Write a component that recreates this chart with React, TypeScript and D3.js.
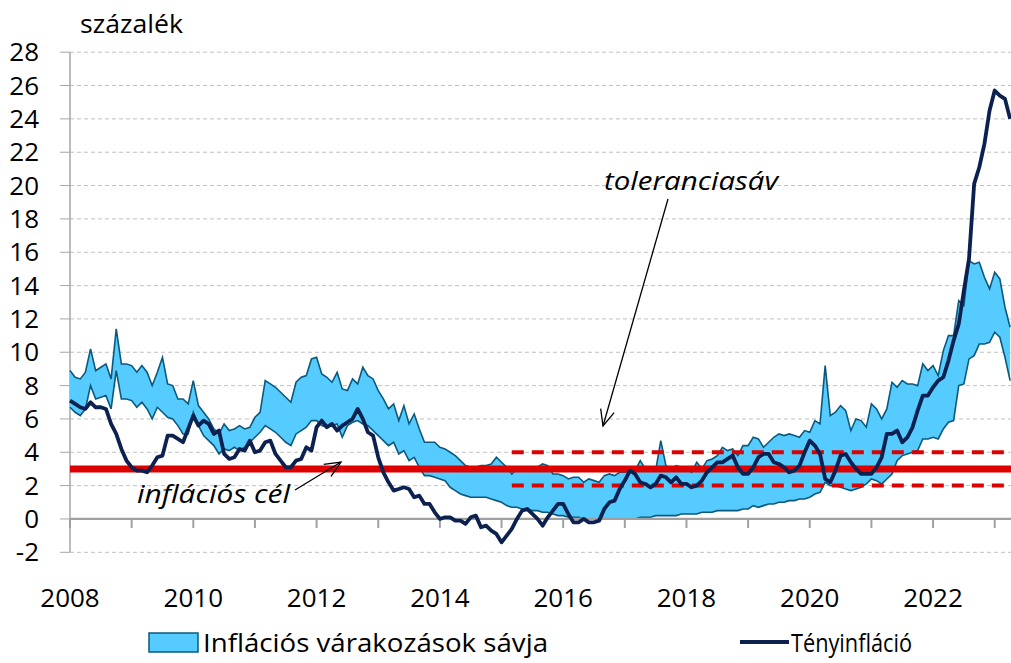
import React, { useEffect, useRef } from "react";
import * as d3 from "d3";

// monthly data, 2008 Jan - 2023 Apr
const startYear = 2008;
const yearTicks = [2008, 2010, 2012, 2014, 2016, 2018, 2020, 2022];
const yTicks = [-2, 0, 2, 4, 6, 8, 10, 12, 14, 16, 18, 20, 22, 24, 26, 28];

const bandUpper = [
  8.9, 8.5, 8.4, 8.8, 10.2, 8.9, 9.1, 9.3, 8.4, 11.4, 9.3, 9.3,
  9.2, 8.8, 9.2, 8.8, 8.0, 8.8, 9.7, 8.1, 8.0, 7.2, 7.2, 6.9,
  8.3, 6.8, 6.4, 6.0, 5.4, 5.1, 5.7, 5.3, 5.4, 5.6, 5.4, 5.5,
  6.1, 6.4, 8.3, 8.1, 7.9, 7.6, 7.3, 7.0, 8.2, 8.5, 8.6, 9.6,
  9.7, 8.7, 8.5, 8.2, 8.8, 7.8, 7.7, 8.4, 8.1, 9.1, 8.6, 8.4,
  7.7, 7.2, 6.6, 6.9, 5.9, 6.8, 5.7, 6.3, 5.4, 4.6, 4.6, 4.6,
  4.3, 4.2, 4.0, 3.8, 3.5, 3.2, 3.1, 3.1, 3.2, 3.2, 3.3, 3.7,
  3.4, 3.1, 2.7, 3.0, 3.0, 3.0, 3.0, 3.1, 3.3, 3.2, 2.7, 2.7,
  2.6, 2.4, 2.5, 2.5, 2.2, 2.4, 2.3, 2.2, 2.6, 2.7, 2.6, 2.8,
  2.8, 2.9, 2.9, 3.5, 3.0, 3.0, 2.9, 4.7, 3.2, 3.0, 3.2, 3.1,
  3.0, 2.8, 3.4, 3.0, 3.5, 3.6, 3.8, 4.3, 4.1, 4.2, 3.8, 4.4,
  4.4, 4.9, 4.8, 4.3, 4.6, 4.9, 5.1, 5.0, 5.1, 5.0, 4.9, 5.3,
  5.2, 5.9, 5.7, 9.2, 6.2, 6.4, 6.8, 6.5, 5.3, 6.0, 5.9, 5.5,
  6.9, 6.6, 6.0, 6.6, 8.2, 7.9, 8.3, 8.1, 8.1, 8.0, 9.3, 8.9,
  9.2, 8.6, 10.1, 11.0, 11.0, 13.1, 12.8, 15.5, 15.3, 15.4, 14.5, 13.8,
  14.8, 14.4, 12.7, 11.5,
];

const bandLower = [
  6.7, 6.4, 6.2, 6.6, 8.0, 7.2, 7.3, 7.4, 6.6, 8.9, 7.2, 7.2,
  7.1, 6.7, 7.0, 6.6, 6.0, 6.7, 6.4, 6.1, 6.0, 5.6, 5.1, 5.1,
  6.4, 5.6, 5.0, 4.7, 4.4, 3.9, 4.2, 4.1, 4.3, 4.1, 4.3, 4.6,
  4.9, 5.2, 5.6, 5.4, 5.2, 4.9, 4.6, 4.4, 5.1, 5.3, 5.5, 5.9,
  5.9, 5.6, 5.5, 5.6, 5.7, 4.9, 5.6, 5.8, 5.9, 5.7, 5.6, 5.3,
  5.0, 4.7, 4.4, 4.6, 3.9, 4.1, 3.5, 3.7, 3.1, 2.6, 2.6, 2.5,
  2.4, 2.3, 1.9, 1.7, 1.5, 1.4, 1.3, 1.3, 1.3, 1.3, 1.2, 1.1,
  1.0, 0.8, 0.7, 0.7, 0.6, 0.6, 0.5, 0.5, 0.4, 0.4, 0.3, 0.2,
  0.2, 0.1, 0.1, 0.1, 0.0, 0.0, 0.0, 0.0, 0.0, 0.0, 0.0, 0.0,
  0.0, 0.0, 0.0, 0.1, 0.1, 0.1, 0.2, 0.2, 0.2, 0.2, 0.2, 0.3,
  0.3, 0.3, 0.3, 0.4, 0.4, 0.4, 0.5, 0.5, 0.5, 0.5, 0.5, 0.6,
  0.6, 0.8, 0.7, 0.8, 0.9, 0.9, 1.0, 1.0, 1.1, 1.1, 1.2, 1.2,
  1.3, 1.5, 1.6, 2.2, 2.0, 2.0, 1.9, 1.8, 1.7, 1.8, 1.9, 2.1,
  2.4, 2.3, 2.1, 2.4, 2.7, 3.5, 3.8, 3.9, 4.0, 4.1, 4.8, 4.8,
  4.9, 4.8, 5.4, 5.8, 5.9, 8.0, 8.1, 9.6, 9.8, 10.5, 10.5, 10.6,
  11.2, 10.9, 9.7, 8.3,
];

const actual = [
  7.1, 6.9, 6.7, 6.6, 7.0, 6.7, 6.7, 6.6, 5.7, 5.1, 4.2, 3.5,
  3.1, 2.9, 2.9, 2.8, 3.2, 3.7, 3.8, 5.0, 5.0, 4.8, 4.6, 5.4,
  6.2, 5.6, 5.9, 5.7, 5.1, 5.3, 3.9, 3.6, 3.7, 4.2, 4.1, 4.7,
  4.0, 4.1, 4.6, 4.7, 3.9, 3.5, 3.1, 3.1, 3.5, 3.6, 4.3, 4.1,
  5.5, 5.9, 5.5, 5.7, 5.3, 5.6, 5.8, 6.0, 6.6, 6.0, 5.2, 5.0,
  3.7, 2.8, 2.2, 1.7, 1.8, 1.9, 1.8, 1.3, 1.4, 0.9, 0.9, 0.4,
  0.0, 0.1, 0.1, -0.1, -0.1, -0.3, 0.1, 0.2, -0.5, -0.4, -0.7, -0.9,
  -1.4, -1.0, -0.6, 0.0, 0.5, 0.6, 0.3, 0.0, -0.4, 0.1, 0.5, 0.9,
  0.9, 0.3, -0.2, -0.2, 0.0, -0.2, -0.2, -0.1, 0.6, 1.0, 1.1, 1.8,
  2.3, 2.9, 2.7, 2.2, 2.1, 1.9, 2.1, 2.6, 2.5, 2.2, 2.5, 2.1,
  2.1, 1.9, 2.0, 2.3, 2.8, 3.1, 3.4, 3.4, 3.6, 3.8, 3.1, 2.7,
  2.7, 3.1, 3.7, 3.9, 3.9, 3.4, 3.3, 3.1, 2.8, 2.9, 3.2, 4.0,
  4.7, 4.4, 3.9, 2.4, 2.2, 2.9, 3.8, 3.9, 3.4, 3.0, 2.7, 2.7,
  2.7, 3.1, 3.7, 5.1, 5.1, 5.3, 4.6, 4.9, 5.5, 6.5, 7.4, 7.4,
  7.9, 8.3, 8.5, 9.5, 10.7, 11.7, 13.7, 15.6, 20.1, 21.1, 22.5, 24.5,
  25.7, 25.4, 25.2, 24.0,
];

const target = 3;
const tolerance = [2, 4];
const toleranceStart = 2015 + 2 / 12;

const font = '"Open Sans", "Noto Sans", sans-serif';

export default function App() {
  const ref = useRef<SVGSVGElement>(null);

  useEffect(() => {
    const width = 1011, height = 663;
    const svg = d3.select(ref.current).attr("width", width).attr("height", height);
    svg.selectAll("*").remove();

    const x = d3.scaleLinear().domain([2008, 2023]).range([70, 994.7]);
    const y = d3.scaleLinear().domain([-2, 28]).range([552.3, 52.2]);
    const t = (i: number) => x(startYear + i / 12);

    // arrow marker
    svg.append("defs").append("marker")
      .attr("id", "arr")
      .attr("viewBox", "0 0 20 20")
      .attr("refX", 18).attr("refY", 10)
      .attr("markerWidth", 20).attr("markerHeight", 20)
      .attr("markerUnits", "userSpaceOnUse")
      .attr("orient", "auto")
      .append("path")
      .attr("d", "M2,3 L18,10 L2,17")
      .attr("fill", "none").attr("stroke", "#000").attr("stroke-width", 1.3);

    // gridlines
    svg.append("g").selectAll("line").data(yTicks).join("line")
      .attr("x1", 70).attr("x2", width)
      .attr("y1", d => y(d)).attr("y2", d => y(d))
      .attr("stroke", "#c0c0c0").attr("stroke-width", 1)
      .attr("stroke-dasharray", "4,3")
      .attr("display", d => (d === 0 ? "none" : null));

    // y ticks
    svg.append("g").selectAll("line").data(yTicks).join("line")
      .attr("x1", 60).attr("x2", 70)
      .attr("y1", d => y(d)).attr("y2", d => y(d))
      .attr("stroke", "#a6a6a6").attr("stroke-width", 1);

    svg.append("g").selectAll("text").data(yTicks).join("text")
      .attr("x", 39).attr("y", d => y(d) + 9)
      .attr("text-anchor", "end")
      .attr("font-family", font).attr("font-size", 26)
      .text(d => d);

    svg.append("line")
      .attr("x1", 70).attr("x2", 70).attr("y1", y(28)).attr("y2", y(-2))
      .attr("stroke", "#a6a6a6").attr("stroke-width", 1.5);

    // band
    const idx = d3.range(bandUpper.length);
    const area = d3.area<number>()
      .x(i => t(i)).y0(i => y(bandLower[i])).y1(i => y(bandUpper[i]));
    svg.append("path").datum(idx).attr("d", area).attr("fill", "#55CBFF");

    const edge = (arr: number[]) => d3.line<number>().x(i => t(i)).y(i => y(arr[i]));
    [bandUpper, bandLower].forEach(arr => {
      svg.append("path").datum(idx).attr("d", edge(arr))
        .attr("fill", "none").attr("stroke", "#0b5a7c").attr("stroke-width", 1.6);
    });

    // x axis at zero
    svg.append("line")
      .attr("x1", 70).attr("x2", width).attr("y1", y(0)).attr("y2", y(0))
      .attr("stroke", "#a0a0a0").attr("stroke-width", 2.2);
    svg.append("g").selectAll("line").data(d3.range(2008, 2024)).join("line")
      .attr("x1", d => x(d)).attr("x2", d => x(d))
      .attr("y1", y(0)).attr("y2", y(0) + 9)
      .attr("stroke", "#a0a0a0").attr("stroke-width", 2);

    svg.append("g").selectAll("text").data(yearTicks).join("text")
      .attr("x", d => x(d)).attr("y", 607)
      .attr("text-anchor", "middle")
      .attr("font-family", font).attr("font-size", 26)
      .text(d => d);

    // target and tolerance band
    svg.append("line")
      .attr("x1", 70).attr("x2", width).attr("y1", y(target)).attr("y2", y(target))
      .attr("stroke", "#dd0000").attr("stroke-width", 7);
    svg.append("g").selectAll("line").data(tolerance).join("line")
      .attr("x1", x(toleranceStart)).attr("x2", width)
      .attr("y1", d => y(d)).attr("y2", d => y(d))
      .attr("stroke", "#dd0000").attr("stroke-width", 4)
      .attr("stroke-dasharray", "12,8");

    // actual inflation
    svg.append("path").datum(actual)
      .attr("d", d3.line<number>().x((d, i) => t(i)).y(d => y(d)))
      .attr("fill", "none").attr("stroke", "#0d2150").attr("stroke-width", 3.8)
      .attr("stroke-linejoin", "round");

    // annotations
    svg.append("text").attr("x", 604).attr("y", 190)
      .attr("font-family", font).attr("font-size", 26).attr("font-style", "italic")
      .attr("textLength", 174).attr("lengthAdjust", "spacingAndGlyphs")
      .text("toleranciasáv");
    svg.append("line")
      .attr("x1", 668).attr("y1", 199).attr("x2", 603).attr("y2", 426)
      .attr("stroke", "#000").attr("stroke-width", 1.3).attr("marker-end", "url(#arr)");

    svg.append("text").attr("x", 137).attr("y", 503)
      .attr("font-family", font).attr("font-size", 26).attr("font-style", "italic")
      .attr("textLength", 153).attr("lengthAdjust", "spacingAndGlyphs")
      .text("inflációs cél");
    svg.append("line")
      .attr("x1", 295).attr("y1", 490).attr("x2", 341).attr("y2", 462)
      .attr("stroke", "#000").attr("stroke-width", 1.3).attr("marker-end", "url(#arr)");

    // axis title
    svg.append("text").attr("x", 80).attr("y", 33)
      .attr("font-family", font).attr("font-size", 26)
      .attr("textLength", 103).attr("lengthAdjust", "spacingAndGlyphs")
      .text("százalék");

    // legend
    svg.append("rect").attr("x", 149).attr("y", 633).attr("width", 49).attr("height", 19)
      .attr("fill", "#55CBFF").attr("stroke", "#0b5a7c").attr("stroke-width", 1.5);
    svg.append("text").attr("x", 203).attr("y", 652)
      .attr("font-family", font).attr("font-size", 26)
      .attr("textLength", 345).attr("lengthAdjust", "spacingAndGlyphs")
      .text("Inflációs várakozások sávja");
    svg.append("line").attr("x1", 740).attr("x2", 789).attr("y1", 642).attr("y2", 642)
      .attr("stroke", "#0d2150").attr("stroke-width", 3.8);
    svg.append("text").attr("x", 791).attr("y", 652)
      .attr("font-family", font).attr("font-size", 26)
      .attr("textLength", 121).attr("lengthAdjust", "spacingAndGlyphs")
      .text("Tényinfláció");
  }, []);

  return (
    <div style={{ position: "absolute", left: 0, top: 0 }}>
      <svg ref={ref}></svg>
    </div>
  );
}
